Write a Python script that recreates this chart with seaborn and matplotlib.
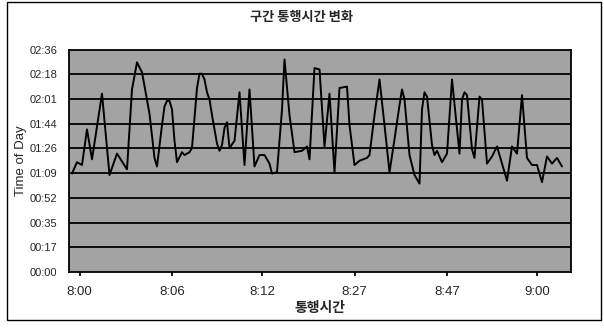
import matplotlib
matplotlib.use("Agg")
import matplotlib.pyplot as plt
import pandas as pd
import seaborn as sns
from matplotlib.patches import Rectangle

# Observation number along the category axis and the travel time (minutes)
sample_no = [0, 2, 4, 6, 8, 12, 15, 18, 22, 24, 26, 28, 31, 33, 34, 36, 37, 38, 39, 40,
             41, 42, 44, 45, 47, 48, 49, 50, 51, 52, 53, 54, 55, 56, 57, 58, 59, 60, 61, 62,
             63, 65, 67, 69, 71, 73, 75, 77, 79, 80, 82, 84, 85, 87, 89, 92, 94, 95, 97, 99,
             101, 103, 105, 107, 110, 111, 113, 115, 118, 119, 121, 123, 125, 127, 129, 131, 132, 133, 135, 137,
             139, 140, 141, 142, 144, 145, 146, 148, 150, 152, 155, 156, 157, 158, 160, 161, 163, 164, 166, 168,
             170, 174, 176, 178, 180, 182, 184, 186, 188, 190, 192, 194, 196]
travel_min = [69, 77, 75, 100, 79, 125, 68, 83, 72, 128, 147, 140, 111, 80, 74, 103, 116, 120, 120, 114,
              92, 77, 84, 82, 84, 87, 108, 129, 139, 139, 135, 126, 121, 110, 100, 90, 85, 89, 101, 105,
              87, 92, 126, 75, 128, 74, 82, 82, 76, 69, 70, 114, 149, 110, 84, 85, 88, 79, 143, 142,
              88, 125, 70, 129, 130, 103, 75, 78, 80, 82, 110, 135, 103, 70, 93, 117, 128, 121, 82, 68,
              62, 114, 126, 123, 89, 82, 85, 77, 83, 135, 83, 121, 126, 124, 86, 80, 123, 121, 76, 81,
              88, 64, 88, 83, 124, 80, 75, 75, 63, 81, 76, 80, 74]

# Category labels shown on the x axis and where they sit
x_tick_pos = [3, 40, 76, 113, 150, 186]
x_tick_labels = ["8:00", "8:06", "8:12", "8:27", "8:47", "9:00"]

# Time-of-day axis labels (equal steps from 0 to 156 minutes)
y_tick_labels = ["00:00", "00:17", "00:35", "00:52", "01:09",
                 "01:26", "01:44", "02:01", "02:18", "02:36"]
y_max = 156

df = pd.DataFrame({"sample": sample_no, "minutes": travel_min})

sns.set_theme(style="white")
plt.rcParams["font.family"] = ["Liberation Sans", "Noto Sans CJK KR", "DejaVu Sans"]

fig = plt.figure(figsize=(6.04, 3.29), dpi=100)
ax = fig.add_axes([69 / 604, 1 - 272 / 329, 502 / 604, 222.5 / 329])
ax.set_facecolor("#a3a3a3")

y_ticks = [i * y_max / 9 for i in range(10)]
for yt in y_ticks[1:-1]:
    ax.axhline(yt, color="black", lw=1.3, zorder=1)

sns.lineplot(data=df, x="sample", y="minutes", color="black", lw=1.4, ax=ax, zorder=3)

ax.set_xlim(-1.2, 199.6)
ax.set_ylim(0, y_max)
ax.set_yticks(y_ticks)
ax.set_yticklabels(y_tick_labels)
ax.set_xticks(x_tick_pos)
ax.set_xticklabels(x_tick_labels)
ax.tick_params(axis="y", labelsize=8, length=0, pad=8.5)
ax.tick_params(axis="x", labelsize=9.5, length=3, direction="out", color="black",
               pad=7, bottom=True)

for s in ax.spines.values():
    s.set_color("black")
    s.set_linewidth(1.3)

ax.set_xlabel("통행시간", fontsize=10, fontweight="bold", labelpad=2,
              family=["Noto Sans CJK KR", "DejaVu Sans"])
ax.set_ylabel("Time of Day", fontsize=9.5)
ax.yaxis.set_label_coords(-0.083, 0.5)

fig.text(0.5, 1 - 17 / 329, "구간 통행시간 변화", ha="center", va="center",
         fontsize=9.5, fontweight="bold", family=["Noto Sans CJK KR", "DejaVu Sans"])

# Outer chart border
fig.patches.append(Rectangle((7 / 604, 1 - 320 / 329), 594 / 604, 318 / 329,
                             transform=fig.transFigure, fill=False,
                             edgecolor="black", lw=1.0))

fig.savefig("out.png", dpi=100, facecolor="white")
